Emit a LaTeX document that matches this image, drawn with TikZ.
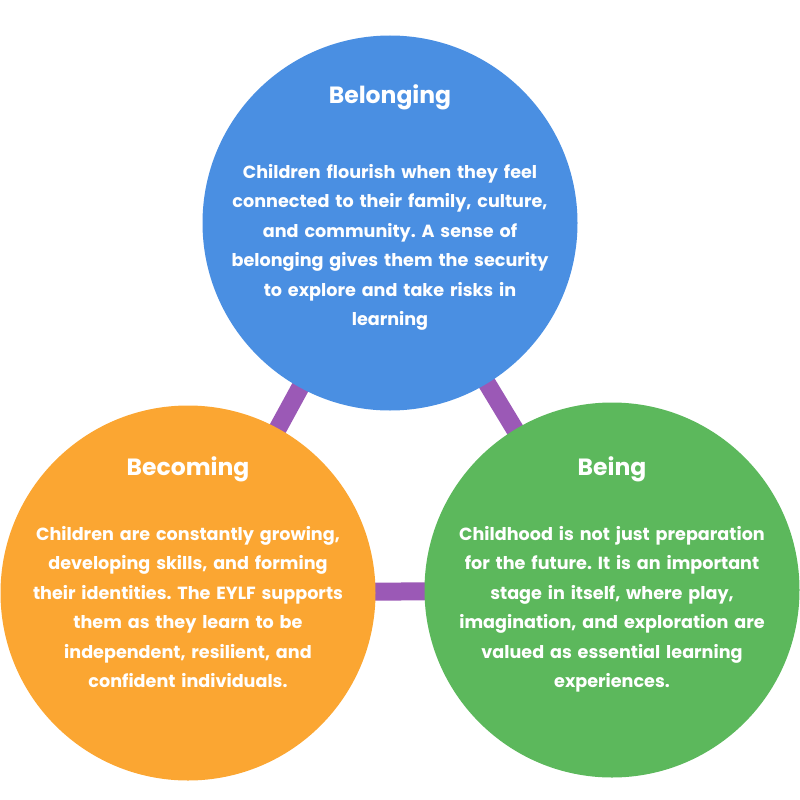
\documentclass[tikz,border=0pt]{standalone}
\usepackage{fontspec}
\setmainfont{Poppins}
\definecolor{cblue}{HTML}{4A8FE2}
\definecolor{corange}{HTML}{FBA632}
\definecolor{cgreen}{HTML}{5CB85C}
\definecolor{cpurple}{HTML}{9B59B6}
\frenchspacing
\begin{document}
\begin{tikzpicture}[x=1pt,y=-1pt,
  bubble/.style={circle,minimum size=375pt,inner sep=0pt,draw=none},
  link/.style={draw=cpurple,line width=18pt},
  ttl/.style={text=white,font=\fontsize{23.5}{28}\selectfont\bfseries,anchor=base,inner sep=0pt},
  body/.style={text=white,font=\fontsize{17.6}{29.5}\selectfont\bfseries\frenchspacing,align=center,text width=370pt,anchor=base,inner sep=0pt}]
\useasboundingbox (0,0) rectangle (800,800);
\coordinate (cb) at (390,223);
\coordinate (co) at (188,593);
\coordinate (cg) at (612,590);
\draw[link] (cb) -- (co);
\draw[link] (cb) -- (cg);
\draw[link] (co) -- (cg);
\node[bubble,fill=cblue] (blue) at (cb) {};
\node[bubble,fill=corange] (orange) at (co) {};
\node[bubble,fill=cgreen] (green) at (cg) {};
\node[ttl] (t1) at (390,103) {Belonging};
\node[ttl] (t2) at (188,475) {Becoming};
\node[ttl] (t3) at (612,475) {Being};
\node[body] (b1) at (390,178) {Children flourish when they feel\\connected to their family, culture,\\and community. A sense of\\belonging gives them the security\\to explore and take risks in\\learning};
\node[body] (b2) at (188,540) {Children are constantly growing,\\developing skills, and forming\\their identities. The EYLF supports\\them as they learn to be\\independent, resilient, and\\confident individuals.};
\node[body] (b3) at (612,540) {Childhood is not just preparation\\for the future. It is an important\\stage in itself, where play,\\imagination, and exploration are\\valued as essential learning\\experiences.};
\end{tikzpicture}
\end{document}
